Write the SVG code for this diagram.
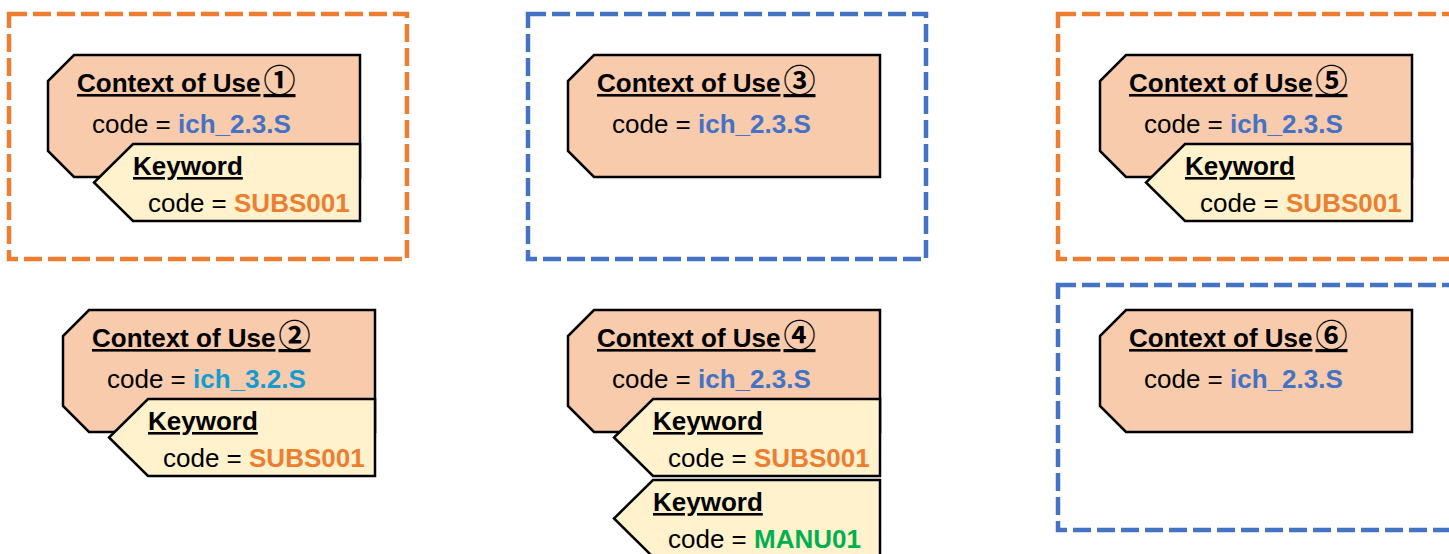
<svg xmlns="http://www.w3.org/2000/svg" width="1449" height="554" viewBox="0 0 1449 554">
  <style>
    .frame { fill: none; stroke-width: 4.5; stroke-dasharray: 18 6; }
    .frame-o { stroke: #ED7D31; }
    .frame-b { stroke: #4472C4; }
    .ctx { fill: #F8CBAD; stroke: #000; stroke-width: 2.5; stroke-linejoin: miter; }
    .kw { fill: #FFF2CC; stroke: #000; stroke-width: 2.5; stroke-linejoin: miter; }
    text { font-family: "Liberation Sans", "Noto Sans CJK JP", sans-serif; font-size: 26px; fill: #000; }
    .title { font-weight: bold; text-decoration: underline; }
    .num { font-family: "Noto Sans CJK JP", sans-serif; font-size: 32px; font-weight: bold; }
    .val { font-weight: bold; }
    .blue { fill: #4472C4; }
    .cyan { fill: #149CD2; }
    .orange { fill: #ED7D31; }
    .green { fill: #00B050; }
  </style>
  <defs>
    <!-- context-of-use shape: chamfered left corners -->
    <path id="ctxShape" d="M26,0 H312 V122 H26 L0,96 V26 Z"/>
    <!-- keyword shape: pointed left side -->
    <path id="kwShape" d="M39,0 H266 V77 H39 L0,38.5 Z"/>
  </defs>

  <!-- dashed grouping frames -->
  <g id="frames">
    <rect class="frame frame-o" x="9" y="14" width="398" height="245"/>
    <rect class="frame frame-b" x="528" y="14" width="398" height="245"/>
    <rect class="frame frame-o" x="1058" y="14" width="410" height="245"/>
    <rect class="frame frame-b" x="1058" y="285" width="410" height="245"/>
  </g>

  <!-- Context of Use 1 -->
  <g id="ctx1" transform="translate(48,55)">
    <use href="#ctxShape" class="ctx"/>
    <text class="title" x="29" y="37">Context of Use<tspan class="num" dx="3">①</tspan></text>
    <text x="44" y="78">code = <tspan class="val blue">ich_2.3.S</tspan></text>
  </g>
  <g id="kw1" transform="translate(94,144)">
    <use href="#kwShape" class="kw"/>
    <text class="title" x="39" y="31">Keyword</text>
    <text x="54" y="68">code = <tspan class="val orange">SUBS001</tspan></text>
  </g>

  <!-- Context of Use 2 -->
  <g id="ctx2" transform="translate(63,310)">
    <use href="#ctxShape" class="ctx"/>
    <text class="title" x="29" y="37">Context of Use<tspan class="num" dx="3">②</tspan></text>
    <text x="44" y="78">code = <tspan class="val cyan">ich_3.2.S</tspan></text>
  </g>
  <g id="kw2" transform="translate(109,399)">
    <use href="#kwShape" class="kw"/>
    <text class="title" x="39" y="31">Keyword</text>
    <text x="54" y="68">code = <tspan class="val orange">SUBS001</tspan></text>
  </g>

  <!-- Context of Use 3 -->
  <g id="ctx3" transform="translate(568,55)">
    <use href="#ctxShape" class="ctx"/>
    <text class="title" x="29" y="37">Context of Use<tspan class="num" dx="3">③</tspan></text>
    <text x="44" y="78">code = <tspan class="val blue">ich_2.3.S</tspan></text>
  </g>

  <!-- Context of Use 4 -->
  <g id="ctx4" transform="translate(568,310)">
    <use href="#ctxShape" class="ctx"/>
    <text class="title" x="29" y="37">Context of Use<tspan class="num" dx="3">④</tspan></text>
    <text x="44" y="78">code = <tspan class="val blue">ich_2.3.S</tspan></text>
  </g>
  <g id="kw4a" transform="translate(614,399)">
    <use href="#kwShape" class="kw"/>
    <text class="title" x="39" y="31">Keyword</text>
    <text x="54" y="68">code = <tspan class="val orange">SUBS001</tspan></text>
  </g>
  <g id="kw4b" transform="translate(614,480)">
    <use href="#kwShape" class="kw"/>
    <text class="title" x="39" y="31">Keyword</text>
    <text x="54" y="68">code = <tspan class="val green">MANU01</tspan></text>
  </g>

  <!-- Context of Use 5 -->
  <g id="ctx5" transform="translate(1100,55)">
    <use href="#ctxShape" class="ctx"/>
    <text class="title" x="29" y="37">Context of Use<tspan class="num" dx="3">⑤</tspan></text>
    <text x="44" y="78">code = <tspan class="val blue">ich_2.3.S</tspan></text>
  </g>
  <g id="kw5" transform="translate(1146,144)">
    <use href="#kwShape" class="kw"/>
    <text class="title" x="39" y="31">Keyword</text>
    <text x="54" y="68">code = <tspan class="val orange">SUBS001</tspan></text>
  </g>

  <!-- Context of Use 6 -->
  <g id="ctx6" transform="translate(1100,310)">
    <use href="#ctxShape" class="ctx"/>
    <text class="title" x="29" y="37">Context of Use<tspan class="num" dx="3">⑥</tspan></text>
    <text x="44" y="78">code = <tspan class="val blue">ich_2.3.S</tspan></text>
  </g>
</svg>
